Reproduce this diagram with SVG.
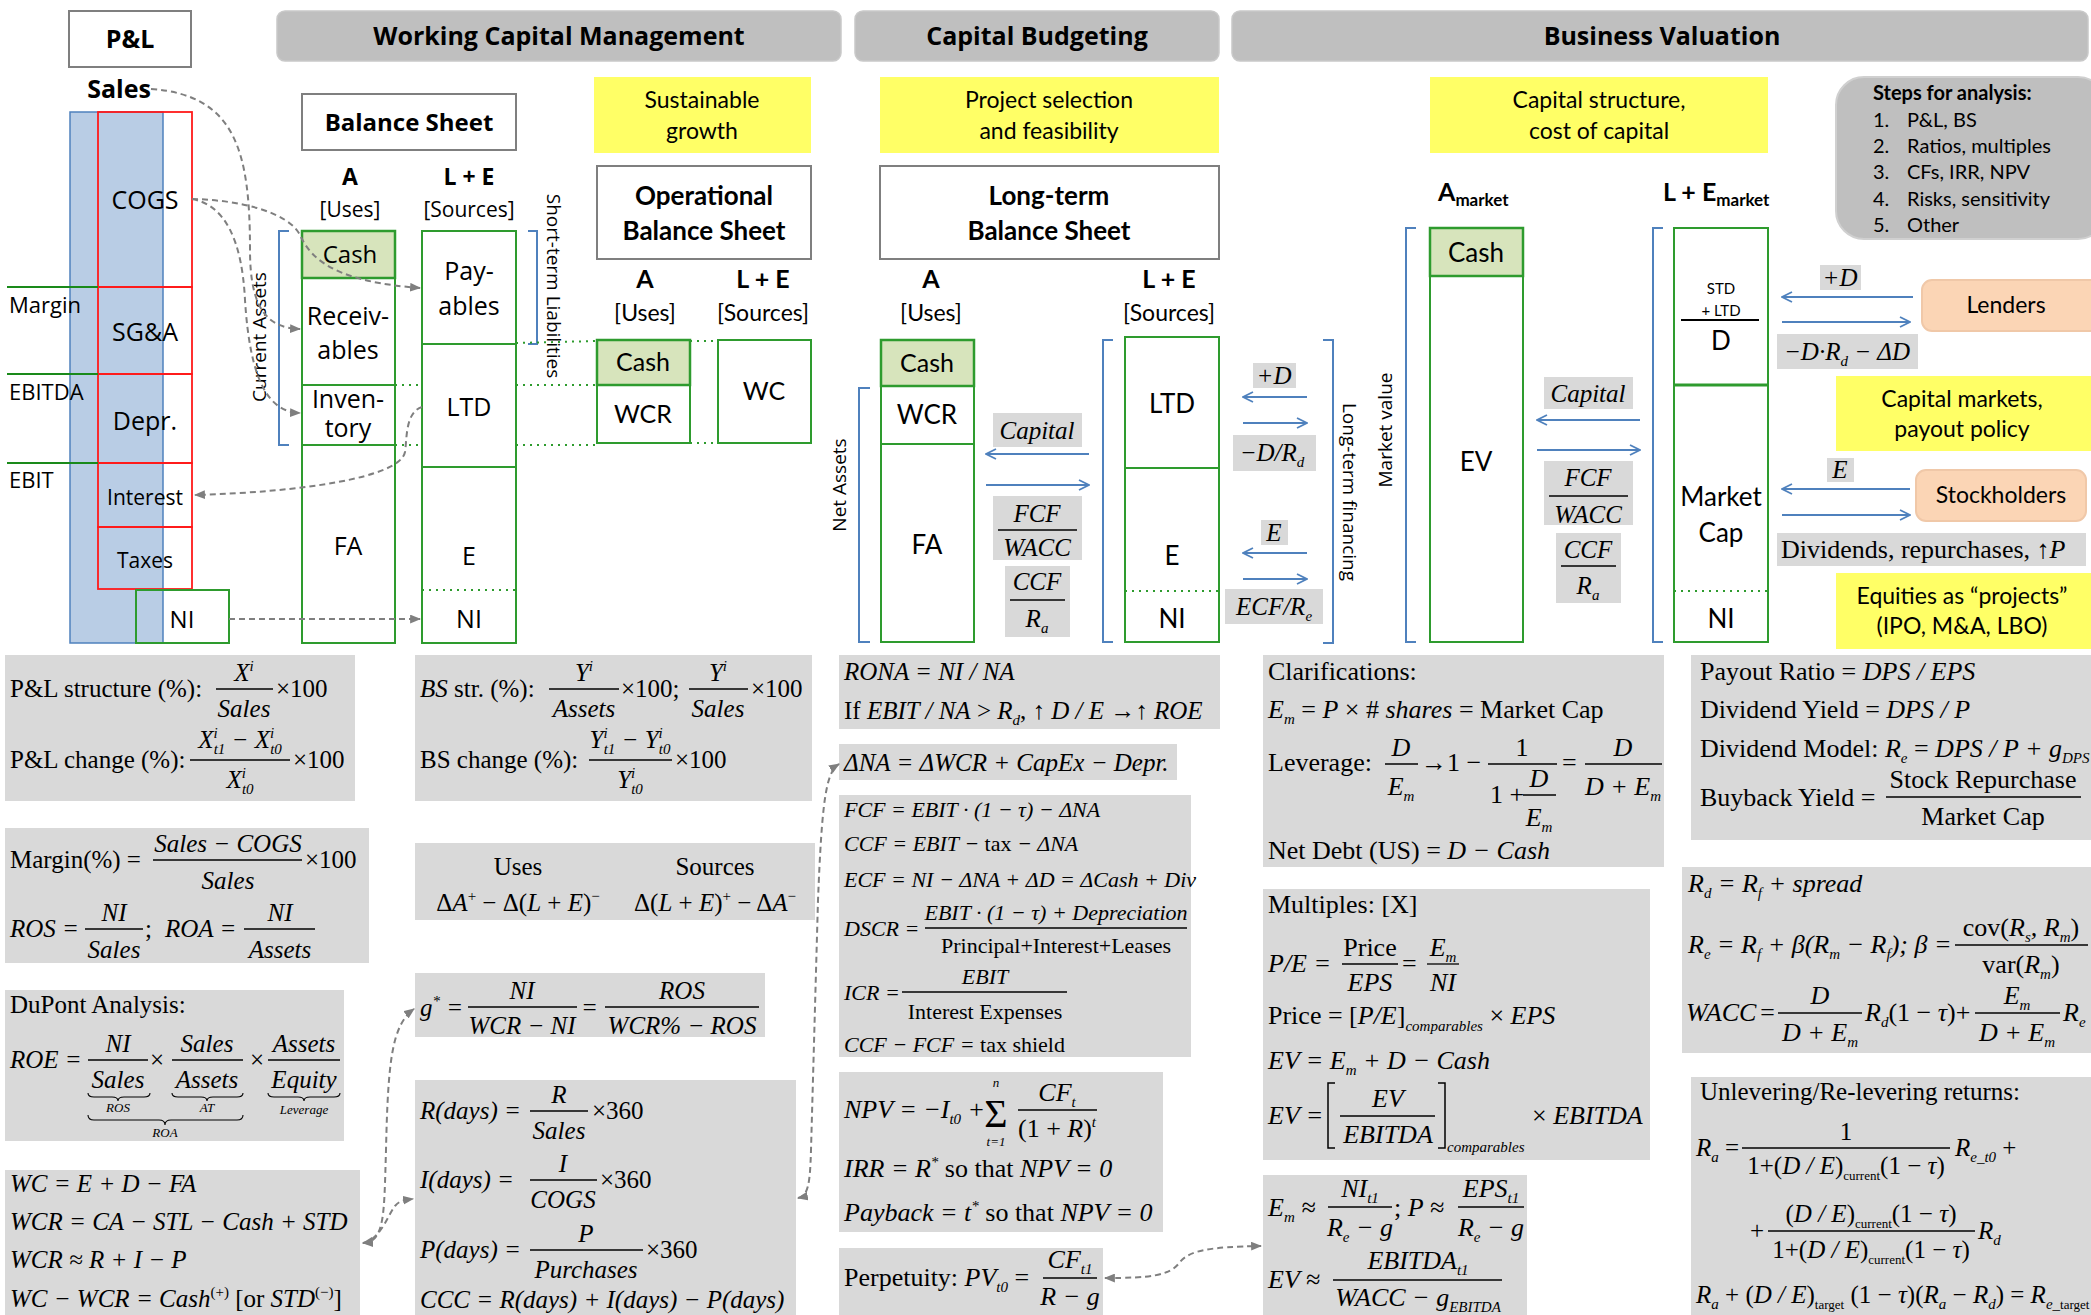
<svg xmlns="http://www.w3.org/2000/svg" width="2091" height="1315" viewBox="0 0 2091 1315">
<style>
.hd{font-family:"Open Sans",sans-serif;font-weight:bold;font-size:25px}
.os{font-family:"Open Sans",sans-serif}
.lt{font-family:Lato,sans-serif}
.b{font-weight:bold}
.m{font-family:"Liberation Serif","Times New Roman",serif}
.i{font-style:italic}
.s{font-size:15px}
.xs{font-size:13px}
.c{text-anchor:middle}
.fb{fill:#d9d9d9}
.hdr{fill:#bfbfbf;stroke:#c9c9c9;stroke-width:1.5}
.tb{fill:#fff;stroke:#7f7f7f;stroke-width:2}
.yl{fill:#ffff66}
.g{fill:none;stroke:#2e9b2e;stroke-width:2}
.cash{fill:#d7e4bc;stroke:#2e9b2e;stroke-width:2.5}
.fl{stroke:#000;stroke-width:1.3}
.ba{stroke:#4f81bd;stroke-width:2;marker-end:url(#ba)}
.dash{fill:none;stroke:#7f7f7f;stroke-width:2;stroke-dasharray:6 4}
.dd{marker-start:url(#ga);marker-end:url(#ga)}
.dot{stroke:#2e9b2e;stroke-width:2;stroke-dasharray:2 5}
.br{fill:none;stroke:#4f81bd;stroke-width:2}
.brace{fill:none;stroke:#000;stroke-width:1.1}
</style>
<defs>
<marker id="ba" viewBox="0 0 12 12" refX="11" refY="6" markerWidth="12" markerHeight="12" markerUnits="userSpaceOnUse" orient="auto"><path d="M1,1 L11,6 L1,11" fill="none" stroke="#4f81bd" stroke-width="1.8"/></marker>
<marker id="ga" viewBox="0 0 10 8" refX="9" refY="4" markerWidth="11" markerHeight="9" markerUnits="userSpaceOnUse" orient="auto-start-reverse"><path d="M0,0 L10,4 L0,8 z" fill="#7f7f7f"/></marker>
</defs>
<rect width="2091" height="1315" fill="#fff"/>

<!-- headers -->
<g id="hdr-pl"><rect class="tb" x="69" y="11" width="122" height="56"/><text class="hd c" x="130" y="48">P&amp;L</text></g>
<g id="hdr-wcm"><rect class="hdr" x="277" y="11" width="564" height="50" rx="8"/><text class="hd c" x="559" y="45">Working Capital Management</text></g>
<g id="hdr-cb"><rect class="hdr" x="855" y="11" width="364" height="50" rx="8"/><text class="hd c" x="1037" y="45">Capital Budgeting</text></g>
<g id="hdr-bv"><rect class="hdr" x="1232" y="11" width="856" height="50" rx="8"/><text class="hd c" x="1662" y="45">Business Valuation</text></g>

<!-- P&L column -->
<g id="pl">
<text class="os b c" x="119" y="98" font-size="25">Sales</text>
<rect x="70" y="112" width="93" height="531" fill="#b9cde5" stroke="#4f81bd" stroke-width="1.5"/>
<g fill="none" stroke="#ff1a1a" stroke-width="1.8">
<rect x="98" y="112" width="94" height="175"/>
<rect x="98" y="287" width="94" height="87"/>
<rect x="98" y="374" width="94" height="89"/>
<rect x="98" y="463" width="94" height="64"/>
<rect x="98" y="527" width="94" height="62"/>
</g>
<g stroke="#1a8a1a" stroke-width="2"><line x1="7" y1="287" x2="98" y2="287"/><line x1="7" y1="374" x2="98" y2="374"/><line x1="7" y1="463" x2="98" y2="463"/></g>
<g class="os" font-size="22"><text x="9" y="313">Margin</text><text x="9" y="400">EBITDA</text><text x="9" y="488">EBIT</text></g>
<g class="os c" font-size="25"><text x="145" y="209">COGS</text><text x="145" y="341">SG&amp;A</text><text x="145" y="430">Depr.</text></g>
<g class="os c" font-size="21"><text x="145" y="505">Interest</text><text x="145" y="568">Taxes</text></g>
<rect class="g" x="136" y="590" width="93" height="53"/>
<text class="os c" x="182" y="628" font-size="24">NI</text>
</g>

<!-- Balance sheet -->
<g id="bs">
<rect class="tb" x="302" y="94" width="214" height="56"/>
<text class="os b c" x="409" y="131" font-size="24">Balance Sheet</text>
<text class="os b c" x="350" y="185" font-size="23">A</text>
<text class="os b c" x="469" y="185" font-size="23">L + E</text>
<text class="os c" x="350" y="217" font-size="21">[Uses]</text>
<text class="os c" x="469" y="217" font-size="21">[Sources]</text>
<rect class="cash" x="302" y="231" width="93" height="47"/>
<rect class="g" x="302" y="278" width="93" height="365"/>
<line class="g" x1="302" y1="385" x2="395" y2="385"/>
<line class="g" x1="302" y1="445" x2="395" y2="445"/>
<rect class="g" x="422" y="231" width="94" height="412"/>
<line class="g" x1="422" y1="344" x2="516" y2="344"/>
<line class="g" x1="422" y1="467" x2="516" y2="467"/>
<line class="dot" x1="422" y1="590" x2="516" y2="590"/>
<g class="os c" font-size="25">
<text x="350" y="263" font-size="24">Cash</text>
<text x="348" y="325">Receiv-</text><text x="348" y="359">ables</text>
<text x="348" y="408">Inven-</text><text x="348" y="437">tory</text>
<text x="348" y="555">FA</text>
<text x="469" y="280">Pay-</text><text x="469" y="315">ables</text>
<text x="469" y="416">LTD</text>
<text x="469" y="565">E</text>
<text x="469" y="628">NI</text>
</g>
<path class="br" d="M289,231 H279 V445 H289"/>
<text class="os c" font-size="19" transform="translate(266,337) rotate(-90)">Current Assets</text>
<path class="br" d="M528,231 H537 V344 H528"/>
<text class="os c" font-size="19" transform="translate(547,286) rotate(90)">Short-term Liabilities</text>
</g>

<!-- Operational BS -->
<g id="opbs">
<rect class="yl" x="594" y="77" width="217" height="76"/>
<text class="lt c" x="702" y="108" font-size="23">Sustainable</text>
<text class="lt c" x="702" y="139" font-size="23">growth</text>
<rect class="tb" x="597" y="166" width="214" height="93"/>
<text class="lt b c" x="704" y="205" font-size="26">Operational</text>
<text class="lt b c" x="704" y="240" font-size="26">Balance Sheet</text>
<text class="lt b c" x="645" y="288" font-size="25">A</text>
<text class="lt b c" x="763" y="288" font-size="25">L + E</text>
<text class="lt c" x="645" y="321" font-size="23">[Uses]</text>
<text class="lt c" x="763" y="321" font-size="23">[Sources]</text>
<rect class="cash" x="597" y="340" width="93" height="45"/>
<rect class="g" x="597" y="385" width="93" height="58"/>
<rect class="g" x="718" y="340" width="93" height="103"/>
<text class="lt c" x="643" y="371" font-size="25">Cash</text>
<text class="lt c" x="643" y="423" font-size="25">WCR</text>
<text class="lt c" x="764" y="400" font-size="25">WC</text>
</g>

<!-- Long-term BS -->
<g id="ltbs">
<rect class="yl" x="880" y="77" width="339" height="76"/>
<text class="lt c" x="1049" y="108" font-size="23">Project selection</text>
<text class="lt c" x="1049" y="139" font-size="23">and feasibility</text>
<rect class="tb" x="880" y="166" width="339" height="93"/>
<text class="lt b c" x="1049" y="205" font-size="26">Long-term</text>
<text class="lt b c" x="1049" y="240" font-size="26">Balance Sheet</text>
<text class="lt b c" x="931" y="288" font-size="25">A</text>
<text class="lt b c" x="1169" y="288" font-size="25">L + E</text>
<text class="lt c" x="931" y="321" font-size="23">[Uses]</text>
<text class="lt c" x="1169" y="321" font-size="23">[Sources]</text>
<rect class="cash" x="881" y="340" width="93" height="46"/>
<rect class="g" x="881" y="386" width="93" height="256"/>
<line class="g" x1="881" y1="444" x2="974" y2="444"/>
<rect class="g" x="1125" y="337" width="94" height="305"/>
<line class="g" x1="1125" y1="468" x2="1219" y2="468"/>
<line class="dot" x1="1125" y1="591" x2="1219" y2="591"/>
<g class="lt c" font-size="26">
<text x="927" y="372" font-size="25">Cash</text><text x="927" y="424">WCR</text><text x="927" y="554">FA</text>
<text x="1172" y="413">LTD</text><text x="1172" y="565">E</text><text x="1172" y="628">NI</text>
</g>
<path class="br" d="M870,388 H859 V642 H870"/>
<text class="os c" font-size="19" transform="translate(846,485) rotate(-90)">Net Assets</text>
<path class="br" d="M1113,340 H1103 V642 H1113"/>
<g class="m i c" font-size="25">
<rect class="fb" x="993" y="413" width="89" height="34"/><text x="1037" y="439">Capital</text>
<rect class="fb" x="993" y="496" width="89" height="64"/><text x="1037" y="522">FCF</text><line class="fl" x1="998" y1="530" x2="1077" y2="530"/><text x="1037" y="556">WACC</text>
<rect class="fb" x="1005" y="566" width="65" height="71"/><text x="1037" y="590">CCF</text><line class="fl" x1="1010" y1="600" x2="1065" y2="600"/><text x="1037" y="627">R<tspan class="s" dy="6">a</tspan></text>
</g>
</g>

<!-- financing labels between LT BS and market -->
<g id="fin">
<g class="m i c" font-size="25">
<rect class="fb" x="1253" y="363" width="43" height="25"/><text x="1274" y="384">+D</text>
<rect class="fb" x="1233" y="435" width="83" height="36"/><text x="1272" y="461">−D/R<tspan class="s" dy="6">d</tspan></text>
<rect class="fb" x="1261" y="520" width="27" height="25"/><text x="1274" y="541">E</text>
<rect class="fb" x="1225" y="589" width="98" height="35"/><text x="1274" y="615">ECF/R<tspan class="s" dy="6">e</tspan></text>
</g>
<path class="br" d="M1323,340 H1333 V643 H1323"/>
<text class="os c" font-size="19" transform="translate(1343,492) rotate(90)">Long-term financing</text>
<text class="os c" font-size="19" transform="translate(1392,430) rotate(-90)">Market value</text>
</g>

<!-- Market BS -->
<g id="mkt">
<rect class="yl" x="1430" y="77" width="338" height="76"/>
<text class="lt c" x="1599" y="108" font-size="23">Capital structure,</text>
<text class="lt c" x="1599" y="139" font-size="23">cost of capital</text>
<text class="lt b" x="1438" y="201" font-size="25">A<tspan font-size="17" dy="5">market</tspan></text>
<text class="lt b" x="1663" y="201" font-size="25">L + E<tspan font-size="17" dy="5">market</tspan></text>
<path class="br" d="M1416,228 H1406 V642 H1416"/>
<rect class="cash" x="1430" y="228" width="93" height="48"/>
<rect class="g" x="1430" y="276" width="93" height="366"/>
<text class="lt c" x="1476" y="262" font-size="26">Cash</text>
<text class="lt c" x="1476" y="471" font-size="26">EV</text>
<path class="br" d="M1663,228 H1653 V642 H1663"/>
<rect class="g" x="1674" y="228" width="94" height="414"/>
<line x1="1674" y1="385" x2="1768" y2="385" stroke="#2e9b2e" stroke-width="3"/>
<line class="dot" x1="1674" y1="591" x2="1768" y2="591"/>
<text class="lt c" x="1721" y="294" font-size="15">STD</text>
<text class="lt c" x="1721" y="316" font-size="15">+ LTD</text>
<line x1="1681" y1="320" x2="1759" y2="320" stroke="#000" stroke-width="2"/>
<g class="lt c" font-size="26"><text x="1721" y="350">D</text><text x="1721" y="506">Market</text><text x="1721" y="542">Cap</text><text x="1721" y="628">NI</text></g>
<g class="m i c" font-size="25">
<rect class="fb" x="1544" y="377" width="89" height="32"/><text x="1588" y="402">Capital</text>
<rect class="fb" x="1544" y="461" width="89" height="64"/><text x="1588" y="486">FCF</text><line class="fl" x1="1549" y1="496" x2="1628" y2="496"/><text x="1588" y="523">WACC</text>
<rect class="fb" x="1556" y="533" width="65" height="70"/><text x="1588" y="558">CCF</text><line class="fl" x1="1561" y1="566" x2="1616" y2="566"/><text x="1588" y="594">R<tspan class="s" dy="6">a</tspan></text>
</g>
</g>

<!-- Lenders / stockholders side -->
<g id="lenders">
<rect class="fb" x="1820" y="265" width="41" height="25"/><text class="m i c" x="1840" y="286" font-size="25">+D</text>
<rect x="1922" y="280" width="180" height="51" rx="10" fill="#fbd5b5" stroke="#f0c8a8" stroke-width="2"/>
<text class="lt c" x="2006" y="313" font-size="23">Lenders</text>
<rect class="fb" x="1777" y="334" width="141" height="35"/>
<text class="m i c" x="1847" y="360" font-size="25">−D·R<tspan class="s" dy="6">d</tspan><tspan dy="-6"> − ΔD</tspan></text>
</g>
<g id="capmkt">
<rect class="yl" x="1836" y="376" width="260" height="75"/>
<text class="lt c" x="1962" y="407" font-size="23">Capital markets,</text>
<text class="lt c" x="1962" y="437" font-size="23">payout policy</text>
</g>
<g id="stockholders">
<rect class="fb" x="1827" y="458" width="27" height="24"/><text class="m i c" x="1840" y="478" font-size="25">E</text>
<rect x="1916" y="470" width="170" height="51" rx="10" fill="#fbd5b5" stroke="#f0c8a8" stroke-width="2"/>
<text class="lt c" x="2001" y="503" font-size="23">Stockholders</text>
<rect class="fb" x="1777" y="533" width="309" height="33"/>
<text class="m" x="1781" y="558" font-size="26">Dividends, repurchases, ↑<tspan class="i">P</tspan></text>
</g>
<g id="equities">
<rect class="yl" x="1836" y="573" width="260" height="76"/>
<text class="lt c" x="1962" y="604" font-size="23">Equities as “projects”</text>
<text class="lt c" x="1962" y="634" font-size="23">(IPO, M&amp;A, LBO)</text>
</g>
<g id="steps">
<rect x="1836" y="77" width="270" height="162" rx="28" fill="#bfbfbf" stroke="#d0d0d0" stroke-width="2"/>
<text class="lt b" x="1873" y="100" font-size="20">Steps for analysis:</text>
<g class="lt" font-size="20">
<text x="1873" y="127">1.</text><text x="1907" y="127">P&amp;L, BS</text>
<text x="1873" y="153">2.</text><text x="1907" y="153">Ratios, multiples</text>
<text x="1873" y="179">3.</text><text x="1907" y="179">CFs, IRR, NPV</text>
<text x="1873" y="206">4.</text><text x="1907" y="206">Risks, sensitivity</text>
<text x="1873" y="232">5.</text><text x="1907" y="232">Other</text>
</g>
</g>

<!-- Formula boxes column 1 -->
<g id="f-pl" class="m" font-size="25">
<rect class="fb" x="5" y="655" width="350" height="146"/>
<text x="10" y="697">P&amp;L structure (%):</text>
<text class="i c" x="244" y="681">X<tspan class="s" dy="-10">i</tspan></text>
<line class="fl" x1="216" y1="689" x2="273" y2="689"/>
<text class="i c" x="244" y="717">Sales</text>
<text x="276" y="697">×100</text>
<text x="10" y="768">P&amp;L change (%):</text>
<text class="i c" x="240" y="748">X<tspan class="s" dy="-10">i</tspan><tspan class="s" dx="-4" dy="16">t1</tspan><tspan dy="-6"> − X</tspan><tspan class="s" dy="-10">i</tspan><tspan class="s" dx="-4" dy="16">t0</tspan></text>
<line class="fl" x1="190" y1="760" x2="290" y2="760"/>
<text class="i c" x="240" y="788">X<tspan class="s" dy="-10">i</tspan><tspan class="s" dx="-4" dy="16">t0</tspan></text>
<text x="293" y="768">×100</text>
</g>
<g id="f-margin" class="m" font-size="25">
<rect class="fb" x="5" y="828" width="364" height="135"/>
<text x="10" y="868">Margin(%) =</text>
<text class="i c" x="228" y="852">Sales − COGS</text>
<line class="fl" x1="153" y1="860" x2="302" y2="860"/>
<text class="i c" x="228" y="889">Sales</text>
<text x="305" y="868">×100</text>
<text class="i" x="10" y="937">ROS =</text>
<text class="i c" x="114" y="921">NI</text>
<line class="fl" x1="85" y1="929" x2="143" y2="929"/>
<text class="i c" x="114" y="958">Sales</text>
<text x="145" y="937">;</text>
<text class="i" x="165" y="937">ROA =</text>
<text class="i c" x="280" y="921">NI</text>
<line class="fl" x1="244" y1="929" x2="315" y2="929"/>
<text class="i c" x="280" y="958">Assets</text>
</g>
<g id="f-dupont" class="m" font-size="25">
<rect class="fb" x="5" y="990" width="339" height="151"/>
<text x="10" y="1013">DuPont Analysis:</text>
<text class="i" x="10" y="1068">ROE =</text>
<text class="i c" x="118" y="1052">NI</text><line class="fl" x1="88" y1="1060" x2="148" y2="1060"/><text class="i c" x="118" y="1088">Sales</text>
<text x="150" y="1068">×</text>
<text class="i c" x="207" y="1052">Sales</text><line class="fl" x1="172" y1="1060" x2="243" y2="1060"/><text class="i c" x="207" y="1088">Assets</text>
<text x="250" y="1068">×</text>
<text class="i c" x="304" y="1052">Assets</text><line class="fl" x1="268" y1="1060" x2="340" y2="1060"/><text class="i c" x="304" y="1088">Equity</text>
<path class="brace" d="M88,1093 Q88,1097 94,1097 L112,1097 Q118,1097 118,1101 Q118,1097 124,1097 L144,1097 Q150,1097 150,1093"/>
<path class="brace" d="M172,1093 Q172,1097 178,1097 L201,1097 Q207,1097 207,1101 Q207,1097 213,1097 L237,1097 Q243,1097 243,1093"/>
<path class="brace" d="M268,1093 Q268,1097 274,1097 L298,1097 Q304,1097 304,1101 Q304,1097 310,1097 L334,1097 Q340,1097 340,1093"/>
<text class="i c xs" x="118" y="1112">ROS</text>
<text class="i c xs" x="207" y="1112">AT</text>
<text class="i c xs" x="304" y="1114">Leverage</text>
<path class="brace" d="M88,1115 Q88,1120 94,1120 L159,1120 Q165,1120 165,1125 Q165,1120 171,1120 L237,1120 Q243,1120 243,1115"/>
<text class="i c xs" x="165" y="1137">ROA</text>
</g>
<g id="f-wc" class="m i" font-size="25">
<rect class="fb" x="5" y="1170" width="355" height="145"/>
<text x="10" y="1192">WC = E + D − FA</text>
<text x="10" y="1230">WCR = CA − STL − Cash + STD</text>
<text x="10" y="1268">WCR ≈ R + I − P</text>
<text x="10" y="1307">WC − WCR = Cash<tspan class="s" dy="-10" font-style="normal">(+)</tspan><tspan dy="10" font-style="normal">  [or </tspan>STD<tspan class="s" dy="-10" font-style="normal">(−)</tspan><tspan dy="10" font-style="normal">]</tspan></text>
</g>

<!-- column 2 -->
<g id="f-bs" class="m" font-size="25">
<rect class="fb" x="415" y="655" width="397" height="146"/>
<text x="420" y="697"><tspan class="i">BS</tspan> str. (%):</text>
<text class="i c" x="584" y="681">Y<tspan class="s" dy="-10">i</tspan></text>
<line class="fl" x1="549" y1="689" x2="619" y2="689"/>
<text class="i c" x="584" y="717">Assets</text>
<text x="621" y="697">×100;</text>
<text class="i c" x="718" y="681">Y<tspan class="s" dy="-10">i</tspan></text>
<line class="fl" x1="689" y1="689" x2="748" y2="689"/>
<text class="i c" x="718" y="717">Sales</text>
<text x="751" y="697">×100</text>
<text x="420" y="768">BS change (%):</text>
<text class="i c" x="630" y="748">Y<tspan class="s" dy="-10">i</tspan><tspan class="s" dx="-4" dy="16">t1</tspan><tspan dy="-6"> − Y</tspan><tspan class="s" dy="-10">i</tspan><tspan class="s" dx="-4" dy="16">t0</tspan></text>
<line class="fl" x1="589" y1="760" x2="672" y2="760"/>
<text class="i c" x="630" y="788">Y<tspan class="s" dy="-10">i</tspan><tspan class="s" dx="-4" dy="16">t0</tspan></text>
<text x="675" y="768">×100</text>
</g>
<g id="f-uses" class="m" font-size="25">
<rect class="fb" x="415" y="843" width="400" height="77"/>
<text class="c" x="518" y="875">Uses</text>
<text class="c" x="715" y="875">Sources</text>
<text class="c" x="518" y="911">Δ<tspan class="i">A</tspan><tspan class="s" dy="-10">+</tspan><tspan dy="10"> − Δ(</tspan><tspan class="i">L</tspan> + <tspan class="i">E</tspan>)<tspan class="s" dy="-10">−</tspan></text>
<text class="c" x="715" y="911">Δ(<tspan class="i">L</tspan> + <tspan class="i">E</tspan>)<tspan class="s" dy="-10">+</tspan><tspan dy="10"> − Δ</tspan><tspan class="i">A</tspan><tspan class="s" dy="-10">−</tspan></text>
</g>
<g id="f-g" class="m i" font-size="25">
<rect class="fb" x="415" y="973" width="350" height="64"/>
<text x="420" y="1016">g<tspan class="s" dy="-10">*</tspan><tspan dy="10"> =</tspan></text>
<text class="c" x="522" y="999">NI</text>
<line class="fl" x1="468" y1="1007" x2="577" y2="1007"/>
<text class="c" x="522" y="1034">WCR − NI</text>
<text x="581" y="1016">=</text>
<text class="c" x="682" y="999">ROS</text>
<line class="fl" x1="605" y1="1007" x2="759" y2="1007"/>
<text class="c" x="682" y="1034">WCR% − ROS</text>
</g>
<g id="f-days" class="m i" font-size="25">
<rect class="fb" x="415" y="1080" width="381" height="235"/>
<text x="420" y="1119">R(days) =</text>
<text class="c" x="559" y="1103">R</text><line class="fl" x1="530" y1="1111" x2="588" y2="1111"/><text class="c" x="559" y="1139">Sales</text>
<text x="592" y="1119" font-style="normal">×360</text>
<text x="420" y="1188">I(days) =</text>
<text class="c" x="563" y="1172">I</text><line class="fl" x1="530" y1="1180" x2="597" y2="1180"/><text class="c" x="563" y="1208">COGS</text>
<text x="600" y="1188" font-style="normal">×360</text>
<text x="420" y="1258">P(days) =</text>
<text class="c" x="586" y="1242">P</text><line class="fl" x1="530" y1="1250" x2="643" y2="1250"/><text class="c" x="586" y="1278">Purchases</text>
<text x="646" y="1258" font-style="normal">×360</text>
<text x="420" y="1308">CCC = R(days) + I(days) − P(days)</text>
</g>

<!-- column 3 -->
<g id="f-rona" class="m" font-size="25">
<rect class="fb" x="839" y="655" width="381" height="74"/>
<text class="i" x="844" y="680">RONA = NI / NA</text>
<text x="844" y="719">If <tspan class="i">EBIT / NA</tspan> &gt; <tspan class="i">R</tspan><tspan class="s i" dy="6">d</tspan><tspan dy="-6">,  ↑ </tspan><tspan class="i">D / E</tspan> →↑ <tspan class="i">ROE</tspan></text>
</g>
<g id="f-dna" class="m i" font-size="25">
<rect class="fb" x="839" y="744" width="338" height="36"/>
<text x="844" y="771">ΔNA = ΔWCR + CapEx − Depr.</text>
</g>
<g id="f-fcf" class="m i" font-size="22">
<rect class="fb" x="839" y="795" width="352" height="262"/>
<text x="844" y="817">FCF = EBIT · (1 − τ) − ΔNA</text>
<text x="844" y="851">CCF = EBIT − <tspan font-style="normal">tax</tspan> − ΔNA</text>
<text x="844" y="887">ECF = NI − ΔNA + ΔD = ΔCash + Div</text>
<text x="844" y="936">DSCR =</text>
<text class="c" x="1056" y="920">EBIT · (1 − τ) + Depreciation</text>
<line class="fl" x1="925" y1="928" x2="1187" y2="928"/>
<text class="c" x="1056" y="953" font-style="normal">Principal+Interest+Leases</text>
<text x="844" y="1000">ICR =</text>
<text class="c" x="985" y="984">EBIT</text>
<line class="fl" x1="902" y1="992" x2="1067" y2="992"/>
<text class="c" x="985" y="1019" font-style="normal">Interest Expenses</text>
<text x="844" y="1052">CCF − FCF = <tspan font-style="normal"> tax shield</tspan></text>
</g>
<g id="f-npv" class="m i" font-size="26">
<rect class="fb" x="839" y="1072" width="324" height="160"/>
<text x="844" y="1118">NPV = −I<tspan class="s" dy="6">t0</tspan><tspan dy="-6"> +</tspan></text>
<text class="c" x="996" y="1127" font-size="40" font-style="normal">Σ</text>
<text class="c xs" x="996" y="1087">n</text>
<text class="c xs" x="996" y="1146">t=1</text>
<text class="c" x="1057" y="1101">CF<tspan class="s" dy="6">t</tspan></text>
<line class="fl" x1="1018" y1="1110" x2="1097" y2="1110"/>
<text class="c" x="1057" y="1137"><tspan font-style="normal">(1 + </tspan>R<tspan font-style="normal">)</tspan><tspan class="s" dy="-10">t</tspan></text>
<text x="844" y="1177">IRR = R<tspan class="s" dy="-10">*</tspan><tspan dy="10" font-style="normal">  so that </tspan>NPV = 0</text>
<text x="844" y="1221">Payback = t<tspan class="s" dy="-10">*</tspan><tspan dy="10" font-style="normal">  so that </tspan>NPV = 0</text>
</g>
<g id="f-perp" class="m" font-size="26">
<rect class="fb" x="839" y="1248" width="264" height="67"/>
<text x="844" y="1286">Perpetuity: <tspan class="i">PV</tspan><tspan class="s i" dy="6">t0</tspan><tspan dy="-6"> =</tspan></text>
<text class="i c" x="1070" y="1268">CF<tspan class="s" dy="6">t1</tspan></text>
<line class="fl" x1="1043" y1="1278" x2="1097" y2="1278"/>
<text class="i c" x="1070" y="1305">R − g</text>
</g>

<!-- column 4 -->
<g id="f-clar" class="m" font-size="26">
<rect class="fb" x="1263" y="655" width="401" height="212"/>
<text x="1268" y="680">Clarifications:</text>
<text x="1268" y="718"><tspan class="i">E</tspan><tspan class="s i" dy="6">m</tspan><tspan dy="-6"> = </tspan><tspan class="i">P</tspan> × # <tspan class="i">shares</tspan> = Market Cap</text>
<text x="1268" y="771">Leverage:</text>
<text class="i c" x="1401" y="756">D</text>
<line class="fl" x1="1385" y1="764" x2="1418" y2="764"/>
<text class="i c" x="1401" y="795">E<tspan class="s" dy="6">m</tspan></text>
<text x="1421" y="771">→1 −</text>
<text class="c" x="1522" y="756">1</text>
<line class="fl" x1="1488" y1="764" x2="1557" y2="764"/>
<text x="1490" y="803">1 +</text>
<text class="i c" x="1539" y="787">D</text>
<line class="fl" x1="1523" y1="795" x2="1556" y2="795"/>
<text class="i c" x="1539" y="826">E<tspan class="s" dy="6">m</tspan></text>
<text x="1562" y="771">=</text>
<text class="i c" x="1623" y="756">D</text>
<line class="fl" x1="1585" y1="764" x2="1662" y2="764"/>
<text class="i c" x="1623" y="795">D + E<tspan class="s" dy="6">m</tspan></text>
<text x="1268" y="859">Net Debt (US) = <tspan class="i">D − Cash</tspan></text>
</g>
<g id="f-mult" class="m" font-size="26">
<rect class="fb" x="1263" y="889" width="387" height="271"/>
<text x="1268" y="913">Multiples: [X]</text>
<text class="i" x="1268" y="972">P/E =</text>
<text class="c" x="1370" y="956">Price</text>
<line class="fl" x1="1342" y1="964" x2="1398" y2="964"/>
<text class="i c" x="1370" y="991">EPS</text>
<text x="1402" y="972">=</text>
<text class="i c" x="1443" y="956">E<tspan class="s" dy="6">m</tspan></text>
<line class="fl" x1="1427" y1="964" x2="1459" y2="964"/>
<text class="i c" x="1443" y="991">NI</text>
<text x="1268" y="1024">Price = [<tspan class="i">P/E</tspan>]<tspan class="s i" dy="7">comparables</tspan><tspan dy="-7"> × </tspan><tspan class="i">EPS</tspan></text>
<text class="i" x="1268" y="1069">EV = E<tspan class="s" dy="6">m</tspan><tspan dy="-6"> + D − Cash</tspan></text>
<text class="i" x="1268" y="1124">EV =</text>
<path d="M1335,1083 H1328 V1148 H1335 M1438,1083 H1445 V1148 H1438" fill="none" stroke="#000" stroke-width="1.5"/>
<text class="i c" x="1388" y="1107">EV</text>
<line class="fl" x1="1340" y1="1116" x2="1435" y2="1116"/>
<text class="i c" x="1388" y="1143">EBITDA</text>
<text class="i s" x="1447" y="1152">comparables</text>
<text class="i" x="1532" y="1124"><tspan font-style="normal">× </tspan>EBITDA</text>
</g>
<g id="f-em" class="m i" font-size="26">
<rect class="fb" x="1263" y="1175" width="264" height="140"/>
<text x="1268" y="1216">E<tspan class="s" dy="6">m</tspan><tspan dy="-6"> ≈</tspan></text>
<text class="c" x="1360" y="1197">NI<tspan class="s" dy="6">t1</tspan></text>
<line class="fl" x1="1328" y1="1207" x2="1392" y2="1207"/>
<text class="c" x="1360" y="1236">R<tspan class="s" dy="6">e</tspan><tspan dy="-6"> − g</tspan></text>
<text x="1394" y="1216"><tspan font-style="normal">; </tspan> P ≈</text>
<text class="c" x="1491" y="1197">EPS<tspan class="s" dy="6">t1</tspan></text>
<line class="fl" x1="1458" y1="1207" x2="1524" y2="1207"/>
<text class="c" x="1491" y="1236">R<tspan class="s" dy="6">e</tspan><tspan dy="-6"> − g</tspan></text>
<text x="1268" y="1288">EV ≈</text>
<text class="c" x="1418" y="1269">EBITDA<tspan class="s" dy="6">t1</tspan></text>
<line class="fl" x1="1333" y1="1280" x2="1502" y2="1280"/>
<text class="c" x="1418" y="1306">WACC − g<tspan class="s" dy="6">EBITDA</tspan></text>
</g>

<!-- column 5 -->
<g id="f-payout" class="m" font-size="26">
<rect class="fb" x="1691" y="655" width="400" height="185"/>
<text x="1700" y="680">Payout Ratio = <tspan class="i">DPS / EPS</tspan></text>
<text x="1700" y="718">Dividend Yield = <tspan class="i">DPS / P</tspan></text>
<text x="1700" y="757">Dividend Model: <tspan class="i">R</tspan><tspan class="s i" dy="6">e</tspan><tspan dy="-6"> = </tspan><tspan class="i">DPS / P + g</tspan><tspan class="s i" dy="6">DPS</tspan></text>
<text x="1700" y="806">Buyback Yield =</text>
<text class="c" x="1983" y="788">Stock Repurchase</text>
<line class="fl" x1="1886" y1="797" x2="2081" y2="797"/>
<text class="c" x="1983" y="825">Market Cap</text>
</g>
<g id="f-wacc" class="m i" font-size="26">
<rect class="fb" x="1682" y="867" width="409" height="186"/>
<text x="1688" y="892">R<tspan class="s" dy="6">d</tspan><tspan dy="-6"> = R</tspan><tspan class="s" dy="6">f</tspan><tspan dy="-6"> + spread</tspan></text>
<text x="1688" y="953">R<tspan class="s" dy="6">e</tspan><tspan dy="-6"> = R</tspan><tspan class="s" dy="6">f</tspan><tspan dy="-6"> + β(R</tspan><tspan class="s" dy="6">m</tspan><tspan dy="-6"> − R</tspan><tspan class="s" dy="6">f</tspan><tspan dy="-6">); β =</tspan></text>
<text class="c" x="2021" y="936"><tspan font-style="normal">cov(</tspan>R<tspan class="s" dy="6">s</tspan><tspan dy="-6">, R</tspan><tspan class="s" dy="6">m</tspan><tspan dy="-6" font-style="normal">)</tspan></text>
<line class="fl" x1="1955" y1="945" x2="2088" y2="945"/>
<text class="c" x="2021" y="973"><tspan font-style="normal">var(</tspan>R<tspan class="s" dy="6">m</tspan><tspan dy="-6" font-style="normal">)</tspan></text>
<text x="1686" y="1021">WACC<tspan dx="2">=</tspan></text>
<text class="c" x="1820" y="1004">D</text>
<line class="fl" x1="1778" y1="1013" x2="1862" y2="1013"/>
<text class="c" x="1820" y="1041">D + E<tspan class="s" dy="6">m</tspan></text>
<text x="1865" y="1021">R<tspan class="s" dy="6">d</tspan><tspan dy="-6" font-style="normal">(1 − </tspan>τ<tspan font-style="normal">)+</tspan></text>
<text class="c" x="2017" y="1004">E<tspan class="s" dy="6">m</tspan></text>
<line class="fl" x1="1975" y1="1013" x2="2060" y2="1013"/>
<text class="c" x="2017" y="1041">D + E<tspan class="s" dy="6">m</tspan></text>
<text x="2063" y="1021">R<tspan class="s" dy="6">e</tspan></text>
</g>
<g id="f-unlev" class="m" font-size="25">
<rect class="fb" x="1691" y="1077" width="400" height="238"/>
<text x="1700" y="1100">Unlevering/Re-levering returns:</text>
<text class="i" x="1696" y="1156">R<tspan class="s" dy="6">a</tspan><tspan dy="-6" font-style="normal"> =</tspan></text>
<text class="c" x="1846" y="1140">1</text>
<line class="fl" x1="1742" y1="1148" x2="1950" y2="1148"/>
<text class="c" x="1846" y="1174">1+(<tspan class="i">D / E</tspan>)<tspan class="xs" dy="6">current</tspan><tspan dy="-6">(1 − </tspan><tspan class="i">τ</tspan>)</text>
<text class="i" x="1955" y="1156">R<tspan class="s" dy="6">e_t0</tspan><tspan dy="-6" font-style="normal"> +</tspan></text>
<text x="1750" y="1239">+</text>
<text class="c" x="1871" y="1222">(<tspan class="i">D / E</tspan>)<tspan class="xs" dy="6">current</tspan><tspan dy="-6">(1 − </tspan><tspan class="i">τ</tspan>)</text>
<line class="fl" x1="1768" y1="1231" x2="1975" y2="1231"/>
<text class="c" x="1871" y="1258">1+(<tspan class="i">D / E</tspan>)<tspan class="xs" dy="6">current</tspan><tspan dy="-6">(1 − </tspan><tspan class="i">τ</tspan>)</text>
<text class="i" x="1978" y="1239">R<tspan class="s" dy="6">d</tspan></text>
<text x="1696" y="1303"><tspan class="i">R</tspan><tspan class="s i" dy="6">a</tspan><tspan dy="-6"> + (</tspan><tspan class="i">D / E</tspan>)<tspan class="xs" dy="6">target</tspan><tspan dy="-6"> (1 − </tspan><tspan class="i">τ</tspan>)(<tspan class="i">R</tspan><tspan class="s i" dy="6">a</tspan><tspan dy="-6"> − </tspan><tspan class="i">R</tspan><tspan class="s i" dy="6">d</tspan><tspan dy="-6">) = </tspan><tspan class="i">R</tspan><tspan class="s i" dy="6">e_</tspan><tspan class="xs" dy="0">target</tspan></text>
</g>

<!-- connectors -->
<g id="connectors">
<g class="dot">
<line x1="395" y1="385" x2="422" y2="385"/><line x1="516" y1="385" x2="597" y2="385"/>
<line x1="395" y1="445" x2="422" y2="445"/><line x1="516" y1="445" x2="597" y2="445"/><line x1="690" y1="443" x2="718" y2="443"/>
<line x1="516" y1="343" x2="597" y2="341"/><line x1="690" y1="341" x2="718" y2="341"/>
</g>
<g class="dash" marker-end="url(#ga)">
<path d="M151,89 C235,95 250,150 250,250 C250,310 268,328 300,329"/>
<path d="M192,199 C240,200 288,212 300,235 C312,262 340,282 420,288"/>
<path d="M192,199 C225,205 242,240 245,300 C250,380 268,412 300,413"/>
<path d="M422,407 C405,412 407,440 405,452 C400,478 300,492 195,495"/>
<path d="M229,619 H420"/>
</g>
<g class="dash dd">
<path d="M363,1243 C385,1242 384,1215 386,1150 C388,1060 392,1025 414,1009"/>
<path d="M363,1243 C380,1240 388,1215 395,1206 C400,1200 405,1200 413,1199"/>
<path d="M798,1198 C808,1196 810,1185 811,1150 L818,900 C822,800 826,772 839,764"/>
<path d="M1105,1278 C1150,1278 1170,1276 1180,1262 C1190,1250 1210,1247 1261,1246"/>
</g>
<g>
<line class="ba" x1="1089" y1="454" x2="986" y2="454"/>
<line class="ba" x1="986" y1="485" x2="1089" y2="485"/>
<line class="ba" x1="1307" y1="397" x2="1243" y2="397"/>
<line class="ba" x1="1243" y1="423" x2="1307" y2="423"/>
<line class="ba" x1="1307" y1="553" x2="1243" y2="553"/>
<line class="ba" x1="1243" y1="579" x2="1307" y2="579"/>
<line class="ba" x1="1640" y1="420" x2="1537" y2="420"/>
<line class="ba" x1="1537" y1="450" x2="1640" y2="450"/>
<line class="ba" x1="1913" y1="297" x2="1782" y2="297"/>
<line class="ba" x1="1782" y1="322" x2="1910" y2="322"/>
<line class="ba" x1="1910" y1="489" x2="1782" y2="489"/>
<line class="ba" x1="1782" y1="515" x2="1910" y2="515"/>
</g>
</g>
</svg>
